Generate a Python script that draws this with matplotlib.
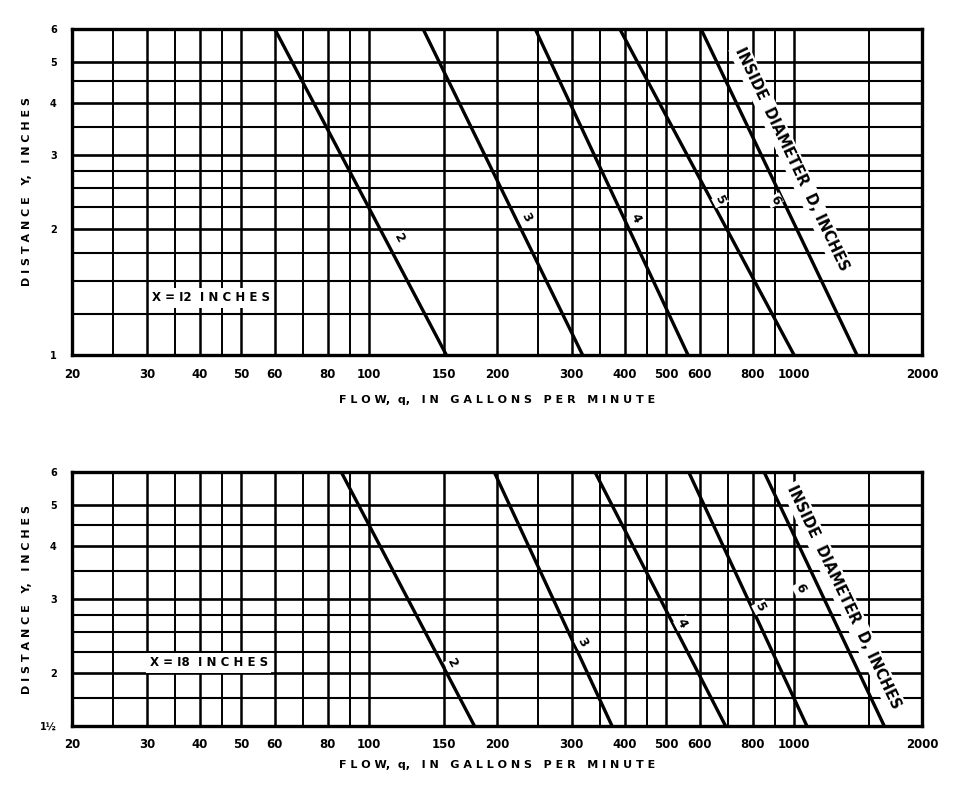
import numpy as np
import matplotlib
matplotlib.use("Agg")
import matplotlib.pyplot as plt
from matplotlib.ticker import FixedLocator, FixedFormatter, NullFormatter

plt.rcParams['font.family'] = ['DejaVu Sans']

# ---------------- data ----------------
diameters = ["2", "3", "4", "5", "6"]
# panel X = 12 in : flow at Y = 6 in and at Y = 1 in
q12_top = [60, 134, 246, 389, 604]
q12_bot = [152, 318, 563, 1000, 1406]
# panel X = 18 in : flow at Y = 6 in and at Y = 1.5 in
q18_top = [86, 197, 340, 565, 850]
q18_bot = [177, 373, 690, 1072, 1630]

x_major = [20, 30, 40, 50, 60, 80, 100, 150, 200, 300, 400, 500, 600, 800, 1000, 2000]
x_labels = [str(v) for v in x_major]
x_minor = [25, 35, 45, 70, 90, 250, 350, 450, 700, 900, 1500]

y12_major = [1, 2, 3, 4, 5, 6]
y12_labels = ["1", "2", "3", "4", "5", "6"]
y12_minor = [1.25, 1.5, 1.75, 2.25, 2.5, 2.75, 3.5, 4.5]

y18_major = [1.5, 2, 3, 4, 5, 6]
y18_labels = ["1½", "2", "3", "4", "5", "6"]
y18_minor = [1.75, 2.25, 2.5, 2.75, 3.5, 4.5]

W, H = 959, 794
fig = plt.figure(figsize=(W / 100, H / 100), dpi=100)

def make_axes(top_px, bot_px):
    left, right = 72, 922
    return fig.add_axes([left / W, 1 - bot_px / H, (right - left) / W, (bot_px - top_px) / H])

ax1 = make_axes(29, 355)
ax2 = make_axes(472, 726)

def setup(ax, ylo, ymajor, ylabels, yminor, xlab_y):
    ax.set_xscale('log')
    ax.set_yscale('log')
    ax.set_xlim(20, 2000)
    ax.set_ylim(ylo, 6)
    ax.xaxis.set_major_locator(FixedLocator(x_major))
    ax.xaxis.set_major_formatter(FixedFormatter(x_labels))
    ax.xaxis.set_minor_locator(FixedLocator(x_minor))
    ax.xaxis.set_minor_formatter(NullFormatter())
    ax.yaxis.set_major_locator(FixedLocator(ymajor))
    ax.yaxis.set_major_formatter(FixedFormatter(ylabels))
    ax.yaxis.set_minor_locator(FixedLocator(yminor))
    ax.yaxis.set_minor_formatter(NullFormatter())
    ax.tick_params(which='both', length=0)
    ax.tick_params(axis='x', pad=9, labelsize=8.5)
    ax.tick_params(axis='y', pad=11, labelsize=7)
    for lab in ax.get_xticklabels() + ax.get_yticklabels():
        lab.set_fontweight('bold')
    for s in ax.spines.values():
        s.set_linewidth(2.4)
        s.set_color('black')
        s.set_zorder(5)
    ax.set_xlabel("F L O W,  q,   I N   G A L L O N S   P E R   M I N U T E", fontsize=8,
                  fontweight='bold')
    ax.xaxis.set_label_coords(0.5, xlab_y)
    ax.set_ylabel("D I S T A N C E   Y,   I N C H E S", fontsize=8, fontweight='bold')
    ax.yaxis.set_label_coords(-0.047, 0.5)

setup(ax1, 1, y12_major, y12_labels, y12_minor, -40 / 326)
setup(ax2, 1.5, y18_major, y18_labels, y18_minor, -34 / 254)

# grid lines
def grid(ax, ymajor, yminor, ylo, skip_1000=False):
    for v in x_major[1:-1]:
        if skip_1000 and v == 1000:
            frac = np.log(3 / ylo) / np.log(6 / ylo)
            ax.axvline(v, ymin=frac, ymax=1, color='black', lw=1.8, zorder=1)
            continue
        ax.axvline(v, color='black', lw=1.8, zorder=1)
    for v in x_minor:
        ax.axvline(v, color='black', lw=1.4, zorder=1)
    for v in ymajor[1:-1]:
        ax.axhline(v, color='black', lw=1.9, zorder=1)
    for v in yminor:
        ax.axhline(v, color='black', lw=1.5, zorder=1)

grid(ax1, y12_major, y12_minor, 1, skip_1000=True)
grid(ax2, y18_major, y18_minor, 1.5)

# curves
for qt, qb in zip(q12_top, q12_bot):
    ax1.plot([qt, qb], [6, 1], color='black', lw=2.4, zorder=3, solid_capstyle='butt')
for qt, qb in zip(q18_top, q18_bot):
    ax2.plot([qt, qb], [6, 1.5], color='black', lw=2.4, zorder=3, solid_capstyle='butt')

lab_kw = dict(fontsize=9, fontweight='bold', ha='center', va='center', rotation=-62, zorder=4)
lab12 = [(118, 1.90), (235, 2.13), (423, 2.12), (670, 2.34), (902, 2.34)]
lab18 = [(157, 2.11), (318, 2.37), (545, 2.63), (832, 2.87), (1033, 3.19)]
for d, (x, y) in zip(diameters, lab12):
    ax1.text(x, y, d, bbox=dict(fc='white', ec='none', pad=0.6), **lab_kw)
for d, (x, y) in zip(diameters, lab18):
    ax2.text(x, y, d, bbox=dict(fc='white', ec='none', pad=0.6), **lab_kw)

dk = dict(fontsize=10.5, fontweight='bold', ha='center', va='center', rotation=-64.5,
          rotation_mode='anchor', zorder=2,
          bbox=dict(fc='white', ec='none', pad=2.0))
ax1.text(987, 2.93, "INSIDE  DIAMETER  D, INCHES", **dk)
ax2.text(1310, 3.03, "INSIDE  DIAMETER  D, INCHES", **dk)

bk = dict(fontsize=8.5, fontweight='bold', ha='center', va='center', zorder=4,
          bbox=dict(fc='white', ec='none', pad=2.5))
ax1.text(42.5, 1.37, "X = I2  I N C H E S", **bk)
ax2.text(42, 2.12, "X = I8  I N C H E S", **bk)

fig.savefig("out.png", dpi=100)
